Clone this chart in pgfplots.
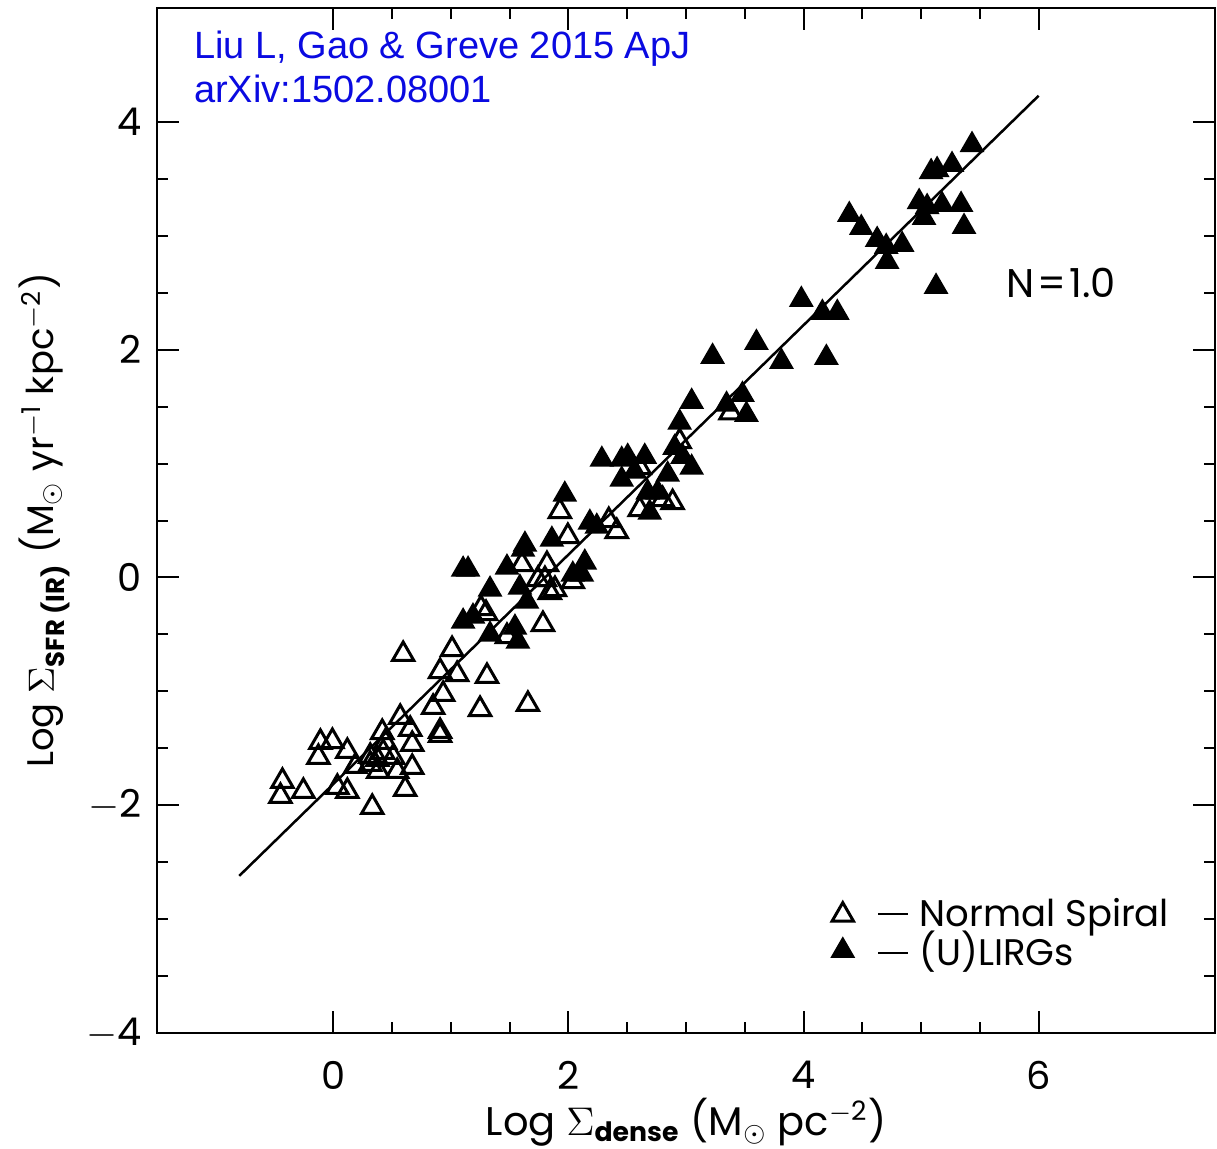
\documentclass[border=0pt]{standalone}
\usepackage{fontspec}
\setmainfont{Liberation Sans}
\newfontfamily\pop{Poppins}
\usepackage{pgfplots}
\pgfplotsset{compat=1.18}
\definecolor{bluetxt}{RGB}{10,10,225}

\begin{document}
\begin{tikzpicture}
\begin{axis}[
  scale only axis, width=317.4pt, height=307.5pt,
  xmin=-1.5, xmax=7.5, ymin=-4, ymax=5,
  xtick={0,2,4,6}, xticklabels={0,2,4,6},
  ytick={-4,-2,0,2,4}, yticklabels={$-$4,$-$2,0,2,4},
  minor tick num=3,
  tick align=inside, tick pos=both,
  major tick length=6.6pt, minor tick length=3.3pt,
  every tick/.style={line width=0.6pt, black},
  axis line style={line width=0.6pt},
  ticklabel style={font=\pop\fontsize{11.5}{13}\selectfont},
  xticklabel style={yshift=-5pt},
  yticklabel style={xshift=-1pt},
  xlabel={Log $\Sigma$\textsubscript{\bfseries dense} (M$_{\odot}$ pc\textsuperscript{$-$2})},
  ylabel={Log $\Sigma$\textsubscript{\bfseries SFR (IR)} (M$_{\odot}$ yr\textsuperscript{$-$1} kpc\textsuperscript{$-$2})},
  xlabel style={font=\pop\fontsize{12}{14}\selectfont, at={(axis description cs:0.5,-0.087)}, anchor=center},
  ylabel style={font=\pop\fontsize{11.1}{13}\selectfont, at={(axis description cs:-0.106,0.5)}, anchor=center},
  legend style={draw=none, fill=none, at={(rel axis cs:0.628,0.145)}, anchor=north west,
    font=\pop\fontsize{11.1}{13}\selectfont, row sep=-4.2pt},
  legend cell align=left,
]
\addplot[only marks, mark=triangle, mark size=3.7pt, mark options={line width=0.9pt, black}] coordinates {
(-0.110,-1.447) (-0.008,-1.439) (-0.127,-1.579) (0.119,-1.526) (-0.433,-1.789)
(-0.450,-1.921) (-0.255,-1.877) (0.034,-1.842) (0.119,-1.877) (0.187,-1.658)
(0.314,-1.640) (0.314,-1.570) (0.416,-1.360) (0.441,-1.447) (0.424,-1.535)
(0.374,-1.596) (0.509,-1.579) (0.382,-1.702) (0.543,-1.702) (0.671,-1.667)
(0.569,-1.228) (0.654,-1.333) (0.671,-1.465) (0.908,-1.351) (0.908,-1.386)
(0.611,-1.860) (0.331,-2.018) (0.849,-1.140) (0.934,-1.026) (0.594,-0.675)
(1.010,-0.632) (0.908,-0.825) (1.053,-0.851) (1.307,-0.868) (1.248,-1.158)
(1.655,-1.114) (1.783,-0.412) (1.477,-0.518) (1.256,-0.272) (1.299,-0.316)
(1.604,0.114) (1.817,0.114) (1.842,-0.132) (1.885,-0.105) (1.800,-0.018)
(1.740,-0.018) (1.927,0.579) (1.995,0.360) (2.343,0.500) (2.411,0.404)
(2.037,-0.035) (2.606,0.596) (2.801,0.684) (2.886,0.658) (2.606,0.965)
(2.946,1.193) (3.379,1.447)
};
\addlegendentry{\hspace{5.5pt}\rule[0.3em]{0.8em}{0.6pt}\hspace{3.5pt}Normal Spiral}
\addplot[only marks, mark=triangle*, mark size=3.7pt, mark options={line width=0.6pt, black, fill=black}] coordinates {
(1.104,0.070) (1.146,0.070) (1.477,0.088) (1.333,-0.105) (1.587,-0.088)
(1.647,-0.211) (1.104,-0.386) (1.188,-0.342) (1.333,-0.500) (1.545,-0.439)
(1.570,-0.561) (1.630,0.289) (1.613,0.246) (1.859,0.333) (1.969,0.728)
(2.182,0.482) (2.241,0.447) (2.139,0.132) (2.037,0.026) (2.114,0.026)
(2.284,1.035) (2.453,1.035) (2.504,1.061) (2.649,1.061) (2.564,0.930)
(2.453,0.860) (2.844,0.904) (2.674,0.746) (2.759,0.746) (2.691,0.570)
(2.903,1.140) (2.946,1.360) (2.971,1.061) (3.048,0.965) (3.048,1.544)
(3.345,1.518) (3.480,1.605) (3.514,1.430) (3.226,1.939) (3.599,2.061)
(3.812,1.895) (3.981,2.439) (4.160,2.325) (4.287,2.325) (4.194,1.930)
(4.389,3.184) (4.491,3.070) (4.626,2.965) (4.703,2.904) (4.839,2.921)
(4.711,2.772) (5.127,2.553) (4.983,3.298) (5.051,3.254) (5.025,3.158)
(5.085,3.561) (5.136,3.579) (5.263,3.623) (5.178,3.272) (5.340,3.272)
(5.365,3.079) (5.433,3.798)
};
\addlegendentry{\hspace{5.5pt}\rule[0.3em]{0.8em}{0.6pt}\hspace{3.5pt}(U)LIRGs}
\addplot[black, line width=0.75pt, forget plot] coordinates {(-0.8,-2.62) (6.0,4.23)};
\node[anchor=center, font=\pop\fontsize{12}{14}\selectfont] at (axis cs:6.19,2.59) {N\kern1pt=\kern1pt1.0};
\node[anchor=base west, inner sep=0pt, text=bluetxt, font=\fontsize{11.4}{13}\selectfont] at (axis cs:-1.19,4.56) {Liu L, Gao \& Greve 2015 ApJ};
\node[anchor=base west, inner sep=0pt, text=bluetxt, font=\fontsize{11.4}{13}\selectfont] at (axis cs:-1.19,4.17) {arXiv:1502.08001};
\end{axis}
\pgfresetboundingbox
\path ([shift={(-47.1pt,-34.5pt)}]current axis.south west) rectangle ([shift={(0.6pt,2.4pt)}]current axis.north east);
\end{tikzpicture}
\end{document}
